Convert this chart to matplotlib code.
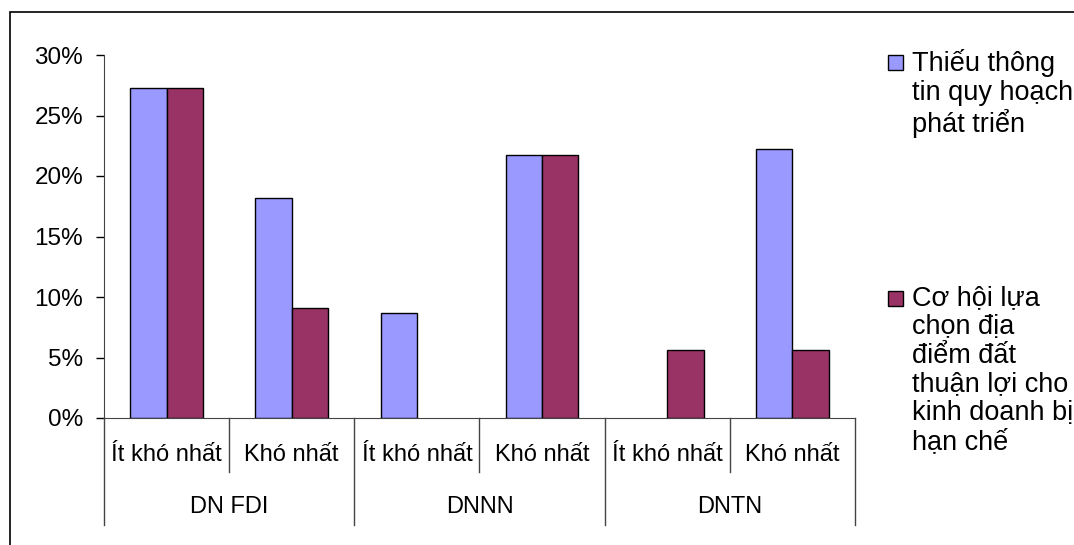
import matplotlib
matplotlib.use("Agg")
import matplotlib.pyplot as plt
from matplotlib.patches import Rectangle
from matplotlib.ticker import FuncFormatter

plt.rcParams["font.family"] = ["Liberation Sans", "DejaVu Sans"]

groups = ["DN FDI", "DNNN", "DNTN"]
levels = ["Ít khó nhất", "Khó nhất"]
series_names = ["Thiếu thông\ntin quy hoạch\nphát triển",
                "Cơ hội lựa\nchọn địa\nđiểm đất\nthuận lợi cho\nkinh doanh bị\nhạn chế"]
thieu_thong_tin = [0.273, 0.182, 0.087, 0.217, 0.0, 0.222]
co_hoi_dat = [0.273, 0.091, 0.0, 0.217, 0.056, 0.056]
colors = ["#9999FF", "#993366"]

W, H = 1074, 545
fig = plt.figure(figsize=(W / 100, H / 100), dpi=100)

# outer chart border (cut off on the right like the original)
fig.patches.append(Rectangle((10 / W, -0.1), 1.2, 1 - 12 / H + 0.1,
                             transform=fig.transFigure, fill=False,
                             edgecolor="black", linewidth=1.2))

ax = fig.add_axes([104 / W, (H - 418) / H, (855 - 104) / W, (418 - 55) / H])

n = len(thieu_thong_tin)
x = list(range(n))
w = 0.29
for vals, c, off in [(thieu_thong_tin, colors[0], -w / 2), (co_hoi_dat, colors[1], w / 2)]:
    # zero-height bars leave no visible mark in the original
    lws = [1 if v > 0 else 0 for v in vals]
    ax.bar([i + off for i in x], vals, w, color=c, edgecolor="black", linewidth=lws)

ax.set_xlim(-0.5, n - 0.5)
ax.set_ylim(0, 0.30)
ax.set_yticks([0, 0.05, 0.10, 0.15, 0.20, 0.25, 0.30])
ax.yaxis.set_major_formatter(FuncFormatter(lambda v, p: f"{v * 100:.0f}%"))
ax.tick_params(axis="y", labelsize=17.5, length=6, width=1, pad=9)
ax.set_xticks([])
for s in ["top", "right"]:
    ax.spines[s].set_visible(False)
for s in ["left", "bottom"]:
    ax.spines[s].set_color("#444444")

# two-level category axis
tr = ax.get_xaxis_transform()
for k in range(n):
    ax.text(k, -0.102, levels[k % len(levels)], transform=tr,
            ha="center", va="center", fontsize=17)
for k in range(n + 1):
    xs = k - 0.5
    depth = -0.295 if k % len(levels) == 0 else -0.149
    ax.plot([xs, xs], [0, depth], transform=tr, color="#444444",
            linewidth=1, clip_on=False)
for g, name in enumerate(groups):
    ax.text(g * len(levels) + (len(levels) - 1) / 2, -0.245, name,
            transform=tr, ha="center", va="center", fontsize=17)

# legend drawn by hand
leg_tops = [62, 298]
for name, c, yt in zip(series_names, colors, leg_tops):
    fig.patches.append(Rectangle((888 / W, (H - yt - 8) / H), 15 / W, 15 / H,
                                 transform=fig.transFigure, facecolor=c,
                                 edgecolor="black", linewidth=1))
    fig.text(912 / W, (H - yt + 13) / H, name, ha="left", va="top",
             fontsize=19.5, linespacing=1.14)

fig.savefig("out.png", dpi=100)
